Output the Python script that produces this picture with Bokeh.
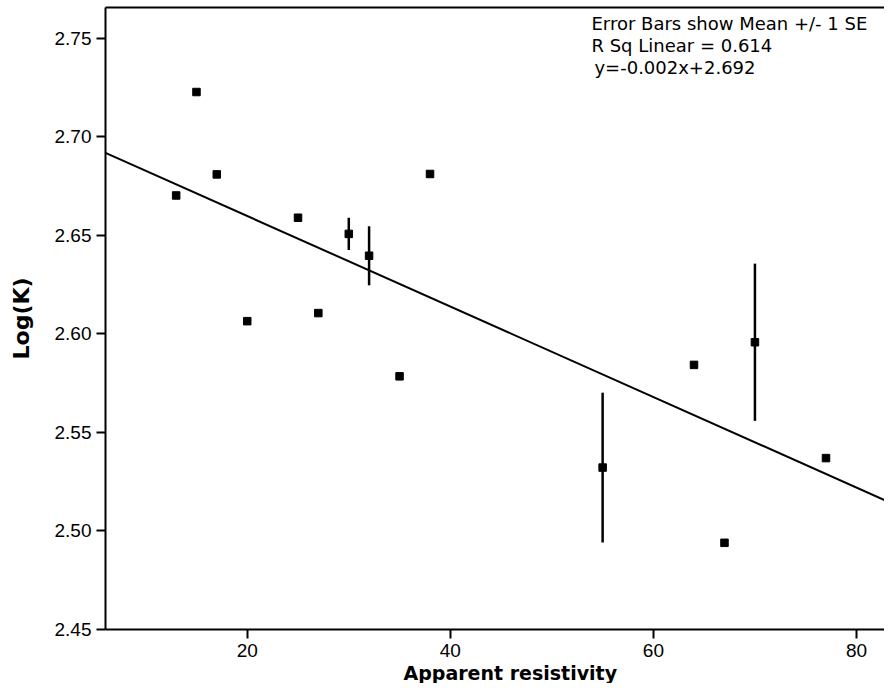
from bokeh.plotting import figure
from bokeh.models import (ColumnDataSource, Range1d, FixedTicker, LinearAxis,
                          Label, NumeralTickFormatter, Title)
from bokeh.embed import file_html
from bokeh.resources import INLINE

# ---- data ----
resistivity = [13, 15, 17, 20, 25, 27, 30, 32, 35, 38, 55, 64, 67, 70, 77]
log_k = [2.6703, 2.7228, 2.6810, 2.6065, 2.6590, 2.6106, 2.6508, 2.6397,
         2.5785, 2.6812, 2.5322, 2.5843, 2.4940, 2.5958, 2.5370]
std_err = [0, 0, 0, 0, 0, 0, 0.0082, 0.0150, 0, 0, 0.0380, 0, 0, 0.0399, 0]
fit_slope = -0.002297
fit_intercept = 2.7058
x_ticks = [20, 40, 60, 80]
y_ticks = [2.45, 2.50, 2.55, 2.60, 2.65, 2.70, 2.75]
annotation_lines = ["Error Bars show Mean +/- 1 SE",
                    "R Sq Linear = 0.614",
                    "y=-0.002x+2.692"]
x_title = "Apparent resistivity"
y_title = "Log(K)"

X_START, X_END = 6.04, 82.76
Y_START, Y_END = 2.45, 2.7657

p = figure(width=884, height=683,
           x_range=Range1d(X_START, X_END), y_range=Range1d(Y_START, Y_END),
           output_backend="svg", toolbar_location=None,
           min_border_left=105, min_border_right=0, min_border_top=7,
           min_border_bottom=0,
           background_fill_color="white", border_fill_color="white",
           outline_line_color=None)
p.grid.visible = False

for ax in (p.xaxis[0], p.yaxis[0]):
    ax.axis_line_width = 2
    ax.axis_line_color = "black"
    ax.major_tick_line_width = 2
    ax.major_tick_line_color = "black"
    ax.major_tick_out = 9
    ax.major_tick_in = 0
    ax.minor_tick_line_color = None
    ax.major_label_text_font = "Liberation Sans"
    ax.major_label_text_font_size = "19px"
    ax.major_label_text_color = "black"
    ax.axis_label_text_font = "DejaVu Sans"
    ax.axis_label_text_font_style = "bold"
    ax.axis_label_text_color = "black"

p.xaxis[0].ticker = FixedTicker(ticks=x_ticks)
p.xaxis[0].formatter = NumeralTickFormatter(format="0")
p.xaxis[0].major_label_standoff = 5

p.yaxis[0].ticker = FixedTicker(ticks=y_ticks)
p.yaxis[0].formatter = NumeralTickFormatter(format="0.00")
p.yaxis[0].axis_label = y_title
p.yaxis[0].axis_label_text_font_size = "22px"
p.yaxis[0].major_label_standoff = 5
p.yaxis[0].axis_label_standoff = 18

# top border line (no right border, as in the reference)
top = LinearAxis(ticker=FixedTicker(ticks=[]), axis_line_width=2,
                 axis_line_color="black", major_tick_line_color=None,
                 minor_tick_line_color=None, major_label_text_font_size="0px")
p.add_layout(top, "above")

# x-axis title, offset from the left of the frame like the reference
p.add_layout(Title(text=x_title, align="left", offset=298, standoff=0,
                   text_font="DejaVu Sans", text_font_style="bold",
                   text_font_size="19px", text_color="black"), "below")

# regression line
fx = [X_START, X_END]
fy = [fit_intercept + fit_slope * v for v in fx]
p.line(fx, fy, line_color="black", line_width=2)

# error bars (mean +/- 1 SE)
eb_x, eb_lo, eb_hi = [], [], []
for xv, yv, sv in zip(resistivity, log_k, std_err):
    if sv > 0:
        eb_x.append(xv)
        eb_lo.append(yv - sv)
        eb_hi.append(yv + sv)
eb = ColumnDataSource(dict(x=eb_x, lo=eb_lo, hi=eb_hi))
p.segment(x0="x", y0="lo", x1="x", y1="hi", source=eb,
          line_color="black", line_width=2.5)

# points
p.scatter(resistivity, log_k, marker="square", size=7.5,
          fill_color="black", line_color="black")

# annotations
ann_x = 53.9
ann_y = [2.7575, 2.7463, 2.7351]
ann_dx = [0, 0, 3]
for t, yy, dx in zip(annotation_lines, ann_y, ann_dx):
    p.add_layout(Label(x=ann_x, y=yy, x_offset=dx, text=t,
                       text_font="DejaVu Sans", text_font_size="18px",
                       text_color="black", text_baseline="alphabetic"))

open("out.html", "w").write(file_html(p, INLINE))
